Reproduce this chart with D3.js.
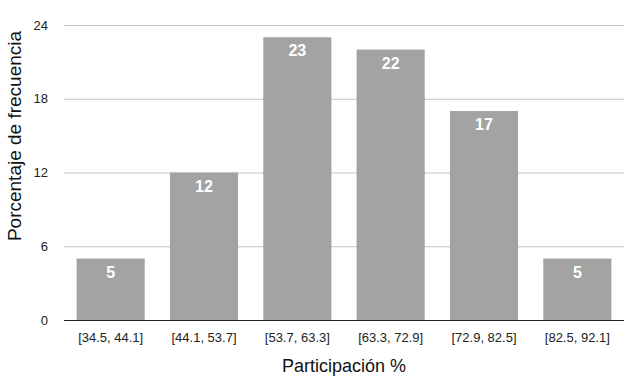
<!DOCTYPE html>
<html>
<head>
<meta charset="utf-8">
<script src="https://cdn.jsdelivr.net/npm/d3@7"></script>
<style>
  body { margin: 0; background: #fff; }
  text { font-family: "Liberation Sans", Arial, sans-serif; }
</style>
</head>
<body>
<div id="chart"></div>
<script>
// data
var categories = ["[34.5, 44.1]", "[44.1, 53.7]", "[53.7, 63.3]", "[63.3, 72.9]", "[72.9, 82.5]", "[82.5, 92.1]"];
var values = [5, 12, 23, 22, 17, 5];
var yTicks = [0, 6, 12, 18, 24];

var margin = { left: 64, right: 12, top: 25, bottom: 64 };
var width = 636 - margin.left - margin.right;
var height = 384 - margin.top - margin.bottom;

var svg = d3.select("#chart")
    .append("svg")
    .attr("width", 636)
    .attr("height", 384);

var g = svg.append("g")
    .attr("transform", "translate(" + margin.left + "," + margin.top + ")");

var x = d3.scaleBand()
    .domain(categories)
    .range([0, width])
    .paddingInner(0.27)
    .paddingOuter(0.135);

var y = d3.scaleLinear()
    .domain([0, 24])
    .range([height, 0]);

// gridlines
g.selectAll(".grid")
    .data(yTicks.filter(function(d){ return d > 0; }))
    .enter().append("line")
    .attr("x1", 0)
    .attr("x2", width)
    .attr("y1", function(d){ return y(d) + 0.5; })
    .attr("y2", function(d){ return y(d) + 0.5; })
    .attr("stroke", "#c4c4c4")
    .attr("stroke-width", 1);

// y tick labels
g.selectAll(".ytick")
    .data(yTicks)
    .enter().append("text")
    .attr("x", -16)
    .attr("y", function(d){ return y(d); })
    .attr("dy", "0.35em")
    .attr("text-anchor", "end")
    .attr("font-size", "13px")
    .attr("fill", "#222")
    .text(function(d){ return d; });

// bars
g.selectAll(".bar")
    .data(values)
    .enter().append("rect")
    .attr("x", function(d, i){ return x(categories[i]); })
    .attr("y", function(d){ return y(d); })
    .attr("width", x.bandwidth())
    .attr("height", function(d){ return height - y(d); })
    .attr("fill", "#a3a3a3");

// value labels
g.selectAll(".val")
    .data(values)
    .enter().append("text")
    .attr("x", function(d, i){ return x(categories[i]) + x.bandwidth() / 2; })
    .attr("y", function(d){ return y(d) + 19; })
    .attr("text-anchor", "middle")
    .attr("font-size", "16px")
    .attr("font-weight", "bold")
    .attr("fill", "#fff")
    .text(function(d){ return d; });

// baseline
g.append("line")
    .attr("x1", 0)
    .attr("x2", width)
    .attr("y1", height + 0.5)
    .attr("y2", height + 0.5)
    .attr("stroke", "#222")
    .attr("stroke-width", 1.2);

// x tick labels
g.selectAll(".xtick")
    .data(categories)
    .enter().append("text")
    .attr("x", function(d){ return x(d) + x.bandwidth() / 2; })
    .attr("y", height + 22)
    .attr("text-anchor", "middle")
    .attr("font-size", "13px")
    .attr("fill", "#222")
    .text(function(d){ return d; });

// axis titles
svg.append("text")
    .attr("x", margin.left + width / 2)
    .attr("y", 372)
    .attr("text-anchor", "middle")
    .attr("font-size", "18px")
    .attr("fill", "#111")
    .text("Participación %");

svg.append("text")
    .attr("transform", "rotate(-90)")
    .attr("x", -136)
    .attr("y", 21)
    .attr("text-anchor", "middle")
    .attr("font-size", "19px")
    .attr("fill", "#111")
    .text("Porcentaje de frecuencia");
</script>
</body>
</html>
